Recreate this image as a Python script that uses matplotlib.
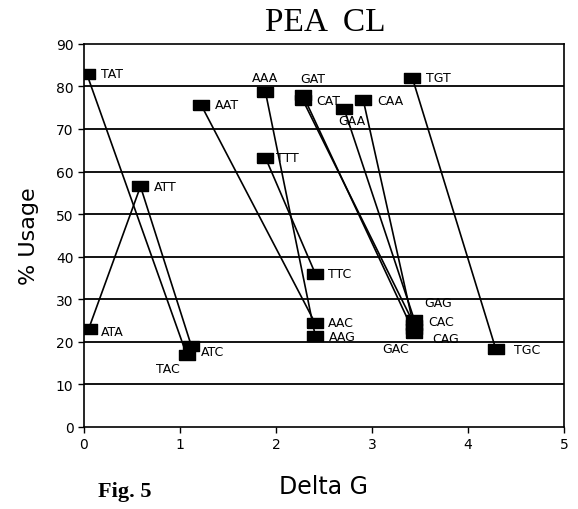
import matplotlib
matplotlib.use('Agg')
import matplotlib.pyplot as plt

# codon positions (Delta G, % usage)
codons = ['TAT', 'TAC', 'ATA', 'ATT', 'ATC', 'AAT', 'AAC', 'AAA', 'AAG',
          'TTT', 'TTC', 'GAT', 'GAC', 'CAT', 'CAC', 'GAA', 'GAG',
          'CAA', 'CAG', 'TGT', 'TGC']
delta_g = [0.03, 1.07, 0.05, 0.59, 1.12, 1.22, 2.41, 1.89, 2.41,
           1.89, 2.41, 2.28, 3.44, 2.28, 3.44, 2.71, 3.44,
           2.91, 3.44, 3.42, 4.29]
usage = [83, 17, 23, 56.5, 19, 75.7, 24.3, 78.8, 21.3,
         63.3, 36, 78, 22, 76.8, 24, 74.7, 25.2,
         76.7, 23, 82, 18.2]

# synonymous codons joined by a line
pairs = [('TAT', 'TAC'), ('ATA', 'ATT'), ('ATT', 'ATC'), ('AAT', 'AAC'),
         ('AAA', 'AAG'), ('TTT', 'TTC'), ('GAT', 'GAC'), ('CAT', 'CAC'),
         ('GAA', 'GAG'), ('CAA', 'CAG'), ('TGT', 'TGC')]

# label offsets in points (dx, dy, ha)
offsets = {
    'TAT': (10, 0, 'left'), 'TAC': (-5, -10, 'right'), 'ATA': (9, -2, 'left'),
    'ATT': (10, 0, 'left'), 'ATC': (7, -4, 'left'), 'AAT': (10, 0, 'left'),
    'AAC': (9, 1, 'left'), 'AAA': (0, 10, 'center'), 'AAG': (10, 0, 'left'),
    'TTT': (8, 0, 'left'), 'TTC': (9, 0, 'left'), 'GAT': (7, 12, 'center'),
    'GAC': (-4, -11, 'right'), 'CAT': (10, 0, 'left'), 'CAC': (10, 2, 'left'),
    'GAA': (-4, -8, 'left'), 'GAG': (7, 12, 'left'), 'CAA': (10, 0, 'left'),
    'CAG': (13, -7, 'left'), 'TGT': (10, 0, 'left'), 'TGC': (13, 0, 'left'),
}

pos = {c: (x, y) for c, x, y in zip(codons, delta_g, usage)}

# wide, flat square marker like the original
box = [(-1.4, -1), (1.4, -1), (1.4, 1), (-1.4, 1), (-1.4, -1)]

fig = plt.figure(figsize=(5.78, 5.10), dpi=100)
ax = fig.add_axes([0.145, 0.161, 0.831, 0.751])

for y in range(10, 90, 10):
    ax.axhline(y, color='black', lw=1.3, zorder=1)

for a, b in pairs:
    ax.plot([pos[a][0], pos[b][0]], [pos[a][1], pos[b][1]], color='black', lw=1.2, zorder=2)

ax.plot(delta_g, usage, ls='none', marker=box, ms=11, mfc='black', mec='black', zorder=3)

for c in codons:
    dx, dy, ha = offsets[c]
    ax.annotate(c, pos[c], xytext=(dx, dy), textcoords='offset points',
                ha=ha, va='center', fontsize=9, family='DejaVu Sans', zorder=4)

ax.set_xlim(0, 5)
ax.set_ylim(0, 90)
ax.set_xticks(range(0, 6))
ax.set_yticks(range(0, 91, 10))
ax.tick_params(labelsize=10, length=4, width=1, color='black')
for s in ax.spines.values():
    s.set_linewidth(1.2)

ax.set_xlabel('Delta G', fontsize=17, labelpad=16)
ax.set_ylabel('% Usage', fontsize=16, labelpad=12)

fig.text(0.562, 0.955, 'PEA  CL', ha='center', va='center', fontsize=24, family='Liberation Serif')
fig.text(0.215, 0.035, 'Fig. 5', ha='center', va='center', fontsize=16,
         family='Liberation Serif', weight='bold')

fig.savefig('out.png', dpi=100)
